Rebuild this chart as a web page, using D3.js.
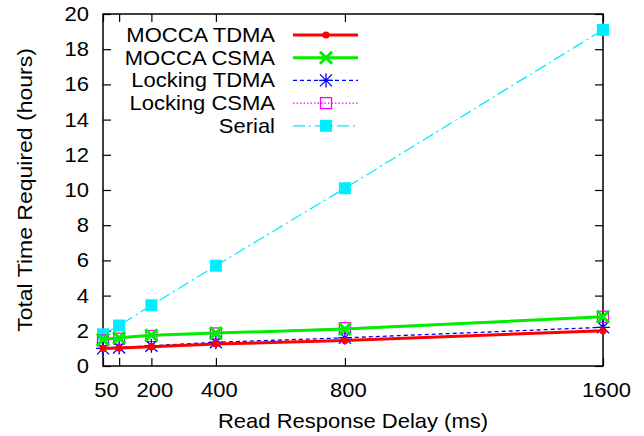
<!DOCTYPE html>
<html>
<head>
<meta charset="utf-8">
<script src="https://cdn.jsdelivr.net/npm/d3@7"></script>
<style>
  body { margin: 0; background: #fff; }
  text { font-family: "Liberation Sans", Arial, sans-serif; }
</style>
</head>
<body>
<div id="chart"></div>
<script>
const delays = [50, 100, 200, 400, 800, 1600];
const moccaTdma = [1.0, 1.02, 1.1, 1.25, 1.45, 2.0];
const moccaCsma = [1.5, 1.6, 1.75, 1.87, 2.1, 2.8];
const lockingTdma = [1.0, 1.05, 1.15, 1.35, 1.6, 2.2];
const lockingCsma = [1.45, 1.55, 1.7, 1.85, 2.15, 2.8];
const serial = [1.8, 2.3, 3.45, 5.7, 10.1, 19.1];
const xTicks = [50, 100, 200, 400, 800, 1600];
const xLabels = ["50", "", "200", "400", "800", "1600"];
const yTicks = [0, 2, 4, 6, 8, 10, 12, 14, 16, 18, 20];

const width = 644, height = 436;
const margin = {top: 14, right: 41, bottom: 70, left: 103};
const fontSize = 20, sx = 1.1;   // the original text is a bit wider than Liberation Sans

const svg = d3.select("#chart").append("svg")
  .attr("width", width)
  .attr("height", height);

const x = d3.scaleLinear().domain([50, 1600]).range([margin.left, width - margin.right]);
const y = d3.scaleLinear().domain([0, 20]).range([height - margin.bottom, margin.top]);

const series = [
  {name: "MOCCA TDMA", values: moccaTdma, color: "#ff0000", width: 3, dash: null, marker: "circle"},
  {name: "MOCCA CSMA", values: moccaCsma, color: "#00ee00", width: 3, dash: null, marker: "x"},
  {name: "Locking TDMA", values: lockingTdma, color: "#0000ff", width: 1.3, dash: "4,3", marker: "star"},
  {name: "Locking CSMA", values: lockingCsma, color: "#ff00ff", width: 1.3, dash: "1.5,2", marker: "square"},
  {name: "Serial", values: serial, color: "#00eeff", width: 1.3, dash: "12,4,2,4", marker: "fsquare"}
];

// stretch a text horizontally around its anchor point
function stretch(t, k) {
  t.each(function() {
    const s = d3.select(this);
    const tx = +s.attr("x") || 0, ty = +s.attr("y") || 0;
    s.attr("x", 0).attr("y", 0).attr("transform", `translate(${tx},${ty}) scale(${k},1)`);
  });
}

// axes (bottom/left with labels, top/right mirrored ticks)
const axBottom = svg.append("g")
  .attr("transform", `translate(0,${y(0)})`)
  .call(d3.axisBottom(x).tickValues(xTicks).tickFormat((d, i) => xLabels[i]).tickSize(-8).tickPadding(17));
const axTop = svg.append("g")
  .attr("transform", `translate(0,${y(20)})`)
  .call(d3.axisTop(x).tickValues(xTicks).tickFormat("").tickSize(-8));
const axLeft = svg.append("g")
  .attr("transform", `translate(${x(50)},0)`)
  .call(d3.axisLeft(y).tickValues(yTicks).tickSize(-8).tickPadding(14));
const axRight = svg.append("g")
  .attr("transform", `translate(${x(1600)},0)`)
  .call(d3.axisRight(y).tickValues(yTicks).tickFormat("").tickSize(-8));

[axBottom, axTop, axLeft, axRight].forEach(g => {
  g.select(".domain").remove();
  g.selectAll("line").attr("stroke", "#000").attr("stroke-width", 1.2);
  g.selectAll("text").attr("font-size", fontSize).attr("fill", "#000")
    .style("font-family", "'Liberation Sans', Arial, sans-serif");
});
axBottom.selectAll("text").attr("x", 3).call(stretch, sx);
axLeft.selectAll("text").call(stretch, sx);

svg.append("rect")
  .attr("x", x(50)).attr("y", y(20))
  .attr("width", x(1600) - x(50)).attr("height", y(0) - y(20))
  .attr("fill", "none").attr("stroke", "#000").attr("stroke-width", 1.5);

svg.append("text")
  .attr("x", (x(50) + x(1600)) / 2)
  .attr("y", 428)
  .attr("text-anchor", "middle")
  .attr("font-size", fontSize)
  .text("Read Response Delay (ms)")
  .call(stretch, sx);

svg.append("text")
  .attr("transform", `translate(32,${(y(0) + y(20)) / 2}) rotate(-90) scale(1.15,1.05)`)
  .attr("text-anchor", "middle")
  .attr("font-size", fontSize)
  .text("Total Time Required (hours)");

function drawMarker(g, type, cx, cy, color) {
  if (type === "circle") {
    g.append("circle").attr("cx", cx).attr("cy", cy).attr("r", 3.6).attr("fill", color);
  } else if (type === "x") {
    g.append("path").attr("d", `M${cx-6},${cy-6}L${cx+6},${cy+6}M${cx-6},${cy+6}L${cx+6},${cy-6}`)
      .attr("stroke", color).attr("stroke-width", 3);
  } else if (type === "star") {
    g.append("path").attr("d", `M${cx-6},${cy-6}L${cx+6},${cy+6}M${cx-6},${cy+6}L${cx+6},${cy-6}M${cx},${cy-7}L${cx},${cy+7}M${cx-7},${cy}L${cx+7},${cy}`)
      .attr("stroke", color).attr("stroke-width", 1.3);
  } else if (type === "square") {
    g.append("rect").attr("x", cx - 5.5).attr("y", cy - 5.5).attr("width", 11).attr("height", 11)
      .attr("fill", "none").attr("stroke", color).attr("stroke-width", 1.3);
  } else if (type === "fsquare") {
    g.append("rect").attr("x", cx - 6).attr("y", cy - 6).attr("width", 12).attr("height", 12)
      .attr("fill", color);
  }
}

const line = d3.line().x((d, i) => x(delays[i])).y(d => y(d));
const plot = svg.append("g");

// draw from last to first so the red/green lines sit on top
series.slice().reverse().forEach(s => {
  plot.append("path")
    .datum(s.values)
    .attr("d", line)
    .attr("fill", "none")
    .attr("stroke", s.color)
    .attr("stroke-width", s.width)
    .attr("stroke-dasharray", s.dash);
  s.values.forEach((v, i) => drawMarker(plot, s.marker, x(delays[i]), y(v), s.color));
});

// legend
const legend = svg.append("g");
series.forEach((s, i) => {
  const ly = 35 + i * 22.7;
  legend.append("text")
    .attr("x", 275).attr("y", ly + 7)
    .attr("text-anchor", "end").attr("font-size", fontSize)
    .text(s.name)
    .call(stretch, sx);
  legend.append("line")
    .attr("x1", 293).attr("x2", 358).attr("y1", ly).attr("y2", ly)
    .attr("stroke", s.color).attr("stroke-width", s.width)
    .attr("stroke-dasharray", s.dash);
  drawMarker(legend, s.marker, 326, ly, s.color);
});
</script>
</body>
</html>
